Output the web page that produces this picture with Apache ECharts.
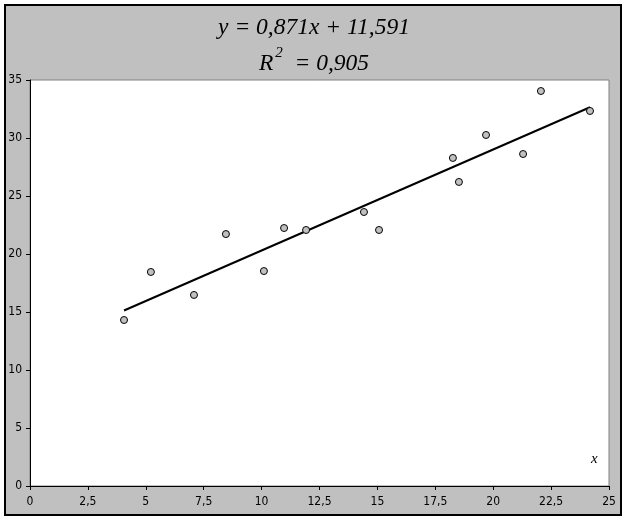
<!DOCTYPE html>
<html>
<head>
<meta charset="utf-8">
<script src="https://cdn.jsdelivr.net/npm/echarts@6/dist/echarts.min.js"></script>
<style>
  html, body { margin: 0; padding: 0; background: #fff; }
  #chart { width: 628px; height: 521px; }
</style>
</head>
<body>
<div id="chart"></div>
<script>
// observed points
var xVals = [4.06, 5.22, 7.08, 8.46, 10.10, 10.97, 11.92, 14.42, 15.07, 18.26, 18.52, 19.69, 21.29, 22.06, 24.18];
var yVals = [14.31, 18.45, 16.47, 21.72, 18.53, 22.24, 22.07, 23.62, 22.07, 28.28, 26.21, 30.26, 28.62, 34.05, 32.33];
// trend line coefficients
var slope = 0.871;
var intercept = 11.591;
var r2 = 0.905;

var points = xVals.map(function (x, i) { return [x, yVals[i]]; });
var xMin = Math.min.apply(null, xVals);
var xMax = Math.max.apply(null, xVals);
var trend = [[xMin, slope * xMin + intercept], [xMax, slope * xMax + intercept]];

function comma(v) { return String(v).replace('.', ','); }

var chart = echarts.init(document.getElementById('chart'));
var tickFont = { color: '#000', fontSize: 12, fontFamily: 'DejaVu Sans Condensed' };
var serif = { fontFamily: 'Liberation Serif', fontStyle: 'italic', fontWeight: 'normal', color: '#000' };

chart.setOption({
    animation: false,
    backgroundColor: '#fff',
    graphic: [
        {
            type: 'rect', z: -10,
            shape: { x: 5, y: 5, width: 616, height: 510 },
            style: { fill: '#c0c0c0', stroke: '#000', lineWidth: 2 }
        },
        {
            type: 'text', left: 591, top: 452, z: 10,
            style: { text: 'x', font: 'italic 15px "Liberation Serif"', fill: '#000' }
        }
    ],
    title: [
        {
            text: 'y = ' + comma(slope) + 'x + ' + comma(intercept),
            left: 'center', top: 11,
            textStyle: Object.assign({ fontSize: 23.5 }, serif)
        },
        {
            text: '{i|R}{s|2}{i|  = ' + comma(r2) + '}',
            left: 'center', top: 41,
            textStyle: {
                fontWeight: 'normal',
                rich: {
                    i: Object.assign({ fontSize: 23.5, lineHeight: 30 }, serif),
                    s: Object.assign({ fontSize: 15, padding: [0, 0, 20, 2] }, serif)
                }
            }
        }
    ],
    grid: {
        left: 30, right: 19, top: 80, bottom: 35,
        show: true, backgroundColor: '#fff', borderColor: '#808080', borderWidth: 1
    },
    xAxis: {
        type: 'value', min: 0, max: 25, interval: 2.5,
        axisLine: { show: true, lineStyle: { color: '#000', width: 1 } },
        axisTick: { show: true, length: 4, lineStyle: { color: '#000' } },
        axisLabel: Object.assign({ margin: 10, formatter: comma }, tickFont),
        splitLine: { show: false }
    },
    yAxis: {
        type: 'value', min: 0, max: 35, interval: 5,
        axisLine: { show: true, lineStyle: { color: '#000', width: 1 } },
        axisTick: { show: true, length: 4, lineStyle: { color: '#000' } },
        axisLabel: Object.assign({ margin: 8, formatter: comma }, tickFont),
        splitLine: { show: false }
    },
    series: [
        {
            type: 'line', data: trend, symbol: 'none', z: 2,
            lineStyle: { color: '#000', width: 2 }
        },
        {
            type: 'scatter', data: points, symbol: 'circle', symbolSize: 7, z: 3,
            itemStyle: { color: '#c0c0c0', borderColor: '#000', borderWidth: 1, opacity: 1 }
        }
    ]
});
</script>
</body>
</html>
